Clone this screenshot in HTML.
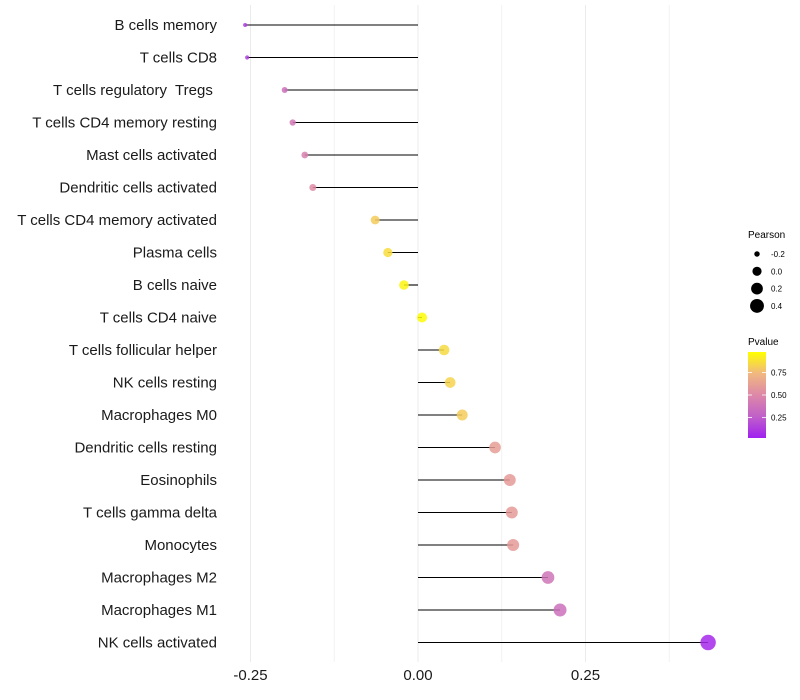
<!DOCTYPE html>
<html><head><meta charset="utf-8"><style>
html,body{margin:0;padding:0;background:#fff;}
svg{display:block;font-family:"Liberation Sans",Arial,sans-serif;}
.yl{white-space:pre;}
</style></head><body>
<svg id="chart" width="800" height="700" viewBox="0 0 800 700">
<defs>
<linearGradient id="pgrad" x1="0" y1="1" x2="0" y2="0">
<stop offset="0" stop-color="#A020F0"/>
<stop offset="0.25" stop-color="#C060C8"/>
<stop offset="0.5" stop-color="#DD88A8"/>
<stop offset="0.75" stop-color="#F0B880"/>
<stop offset="1" stop-color="#FFFF00"/>
</linearGradient>
</defs>
<g id="grid"></g>
<g id="marks"></g>
<g id="ylabels"></g>
<g id="xlabels"></g>
<g>
<text x="748" y="238" font-size="10">Pearson</text>
<g id="sizeleg"></g>
</g>
<g>
<text x="748" y="345" font-size="10">Pvalue</text>
<rect x="748" y="352" width="18" height="86" fill="url(#pgrad)"/>
<g id="colleg"></g>
</g>
</svg>
<script>
const categories = ["B cells memory","T cells CD8","T cells regulatory  Tregs ","T cells CD4 memory resting","Mast cells activated","Dendritic cells activated","T cells CD4 memory activated","Plasma cells","B cells naive","T cells CD4 naive","T cells follicular helper","NK cells resting","Macrophages M0","Dendritic cells resting","Eosinophils","T cells gamma delta","Monocytes","Macrophages M2","Macrophages M1","NK cells activated"];
const pearson = [-0.258,-0.255,-0.199,-0.187,-0.169,-0.157,-0.064,-0.045,-0.021,0.006,0.039,0.048,0.066,0.115,0.137,0.140,0.142,0.194,0.212,0.433];
const pvalues = [0.12,0.12,0.35,0.40,0.45,0.52,0.82,0.88,0.96,0.99,0.87,0.85,0.82,0.62,0.6,0.6,0.6,0.38,0.35,0.03];
const xTicks = [-0.25,0,0.25];
const xTickLabels = ["-0.25","0.00","0.25"];
const xMinor = [-0.125,0.125,0.375];
const sizeLegendVals = [-0.2,0.0,0.2,0.4];
const sizeLegendLabels = ["-0.2","0.0","0.2","0.4"];
const colLegendVals = [0.25,0.5,0.75];
const colLegendLabels = ["0.25","0.50","0.75"];

const NS="http://www.w3.org/2000/svg";
const xs = v => 418 + v*670;
const ys = i => 25 + i*32.5;
const rs = v => Math.sqrt(4 + Math.max(0,v+0.26)*80);
const legY = p => 440 - p*90;
const stops=[[0,[160,32,240]],[0.25,[192,96,200]],[0.5,[221,136,168]],[0.75,[240,184,128]],[1,[255,255,0]]];
function col(p){
  for(let k=1;k<stops.length;k++){
    if(p<=stops[k][0]){const a=stops[k-1],b=stops[k];const t=(p-a[0])/(b[0]-a[0]);
      return "rgb("+a[1].map((c,j)=>Math.round(c+(b[1][j]-c)*t)).join(",")+")";}
  }
  return "rgb(255,255,0)";
}
function mk(tag,attrs,parent){const e=document.createElementNS(NS,tag);for(const k in attrs)e.setAttribute(k,attrs[k]);parent.appendChild(e);return e;}
const grid=document.getElementById('grid');
xMinor.forEach(v=>{const l=mk('line',{x1:xs(v),x2:xs(v),y1:5,y2:662,stroke:'#f2f2f2','stroke-width':1},grid);

});
xTicks.forEach(v=>{const l=mk('line',{x1:xs(v),x2:xs(v),y1:5,y2:662,stroke:'#ebebeb','stroke-width':1},grid);

});
const marks=document.getElementById('marks');
categories.forEach((c,i)=>{
  const g=mk('g',{},marks);
  
  
  const l=mk('line',{x1:xs(0),x2:xs(pearson[i]),y1:ys(i),y2:ys(i),stroke:'#000','stroke-width':1.1},g);
  
  
  const d=mk('circle',{cx:xs(pearson[i]),cy:ys(i),r:rs(pearson[i]),fill:col(pvalues[i]),'fill-opacity':0.85},g);
  
  
  const t=mk('text',{class:'yl',x:217,y:ys(i)+5,'font-size':15,'text-anchor':'end',fill:'#1a1a1a'},document.getElementById('ylabels'));
  t.textContent=c;
  
  
});
xTicks.forEach((v,i)=>{const t=mk('text',{x:xs(v),y:680,'font-size':15,'text-anchor':'middle',fill:'#1a1a1a'},document.getElementById('xlabels'));
t.textContent=xTickLabels[i];

});
const sl=document.getElementById('sizeleg');
sizeLegendVals.forEach((v,i)=>{const y=254+i*17.3;
const c=mk('circle',{cx:757,cy:y,r:rs(v)*0.92,fill:'#000'},sl);


const t=mk('text',{x:771,y:y+3,'font-size':8},sl);t.textContent=sizeLegendLabels[i];

});
const cl=document.getElementById('colleg');
colLegendVals.forEach((v,i)=>{const y=legY(v);
mk('line',{x1:748,x2:752,y1:y,y2:y,stroke:'#fff','stroke-width':0.8},cl);
mk('line',{x1:762,x2:766,y1:y,y2:y,stroke:'#fff','stroke-width':0.8},cl);
const t=mk('text',{x:771,y:y+3,'font-size':8},cl);t.textContent=colLegendLabels[i];

});
</script>
</body></html>
